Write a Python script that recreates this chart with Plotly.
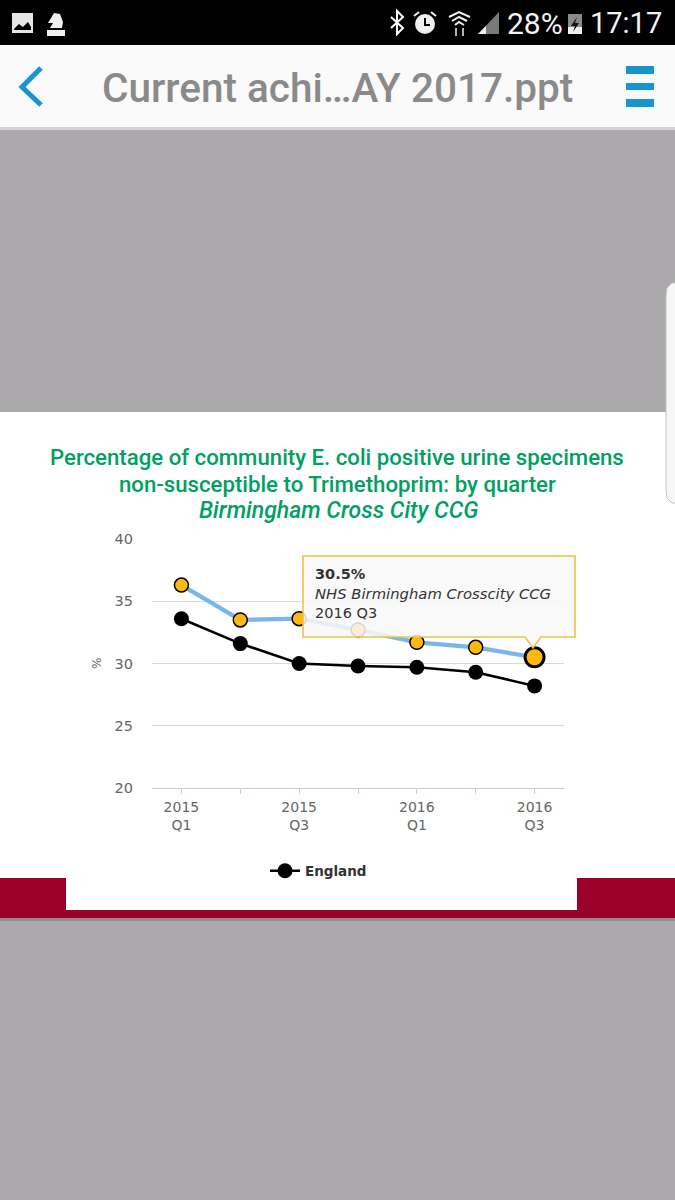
import plotly.graph_objects as go

W, H = 675, 1200

# ---- data ----
quarters = ["2015 Q1", "2015 Q2", "2015 Q3", "2015 Q4", "2016 Q1", "2016 Q2", "2016 Q3"]
tick_labels = ["2015<br>Q1", "", "2015<br>Q3", "", "2016<br>Q1", "", "2016<br>Q3"]
birmingham = [36.3, 33.5, 33.6, 32.7, 31.7, 31.3, 30.5]
england = [33.6, 31.6, 30.0, 29.8, 29.7, 29.3, 28.2]
y_ticks = [20, 25, 30, 35, 40]


def X(px):
    return px / W


def Y(py):
    return 1 - py / H


def rect(x0, y0, x1, y1, color):
    return dict(type="rect", xref="paper", yref="paper", x0=X(x0), x1=X(x1), y0=Y(y0), y1=Y(y1),
                fillcolor=color, line_width=0, layer="below")


def path(points, close=False, fill=None, line=None, width=0, layer="below"):
    d = "M " + " L ".join(f"{X(a):.5f},{Y(b):.5f}" for a, b in points) + (" Z" if close else "")
    return dict(type="path", xref="paper", yref="paper", path=d, fillcolor=fill,
                line=dict(color=line, width=width), layer=layer)


def text(px, py, s, size, color, family="Roboto", anchor="center", weight=400, **kw):
    return dict(xref="paper", yref="paper", x=X(px), y=Y(py), text=s, showarrow=False,
                font=dict(size=size, color=color, family=family, weight=weight), xanchor=anchor, yanchor="middle",
                borderpad=0, **kw)


GREY = "#ABA9AB"
CRIMSON = "#9B0029"
BLUE = "#1596CE"
GREEN = "#00A063"
TICK = "#666666"
ICON = "#EFEFEF"

shapes = [
    rect(0, 0, W, H, GREY),
    rect(0, 0, W, 45, "#000000"),
    rect(0, 45, W, 127, "#FAFAFA"),
    rect(0, 127, W, 130, "#D4D3D4"),
    # slide
    rect(0, 412, W, 878, "#FFFFFF"),
    rect(0, 878, 66, 918, CRIMSON),
    rect(577, 878, W, 918, CRIMSON),
    rect(66, 878, 577, 910, "#FFFFFF"),
    rect(66, 910, 577, 918, CRIMSON),
    rect(0, 918, W, 921, "#8F8D8F"),
    # side handle
    path([(680, 283), (672, 283), (667, 288), (666, 296), (666, 490), (667, 498), (672, 503), (680, 503)], True,
         fill="#F6F6F6", line="#C4C3C4", width=1),
    # nav icons
    path([(41, 68), (22, 87), (41, 105)], line=BLUE, width=5),
    rect(626, 66, 654, 74, BLUE),
    rect(626, 83, 654, 90, BLUE),
    rect(626, 99, 654, 107, BLUE),
    # status bar: picture icon
    rect(12, 13, 33, 33, "#E6E6E6"),
    path([(14, 29), (19, 24), (23, 27), (28, 22), (31, 27), (31, 30), (14, 30)], True, fill="#000000"),
    # status bar: chess knight
    path([(50, 28), (53, 23), (48, 23), (54, 13), (60, 14), (63, 22), (62, 28)], True, fill="#F0F0F0"),
    rect(47, 30, 65, 36, "#F0F0F0"),
    # bluetooth
    path([(391, 17), (403, 28), (397, 34), (397, 11), (403, 17), (391, 28)], line="#FFFFFF", width=2),
    # alarm clock
    dict(type="circle", xref="paper", yref="paper", x0=X(415), x1=X(435), y0=Y(14), y1=Y(34),
         fillcolor=ICON, line_width=0, layer="below"),
    path([(425, 18), (425, 25), (430, 25)], line="#000000", width=2),
    path([(414, 16), (419, 12)], line=ICON, width=2),
    path([(431, 12), (436, 16)], line=ICON, width=2),
    # wifi
    path([(449, 17), (459, 12), (470, 17)], line=ICON, width=2),
    path([(452, 21), (459, 17), (467, 21)], line=ICON, width=2),
    path([(455, 25), (459, 22), (464, 25)], line=ICON, width=2),
    path([(456, 28), (456, 36)], line=ICON, width=1.5),
    path([(463, 28), (463, 36)], line=ICON, width=1.5),
    # signal
    path([(478, 34), (499, 12), (499, 34)], True, fill="#7A7A7A"),
    path([(478, 34), (486, 26), (486, 34)], True, fill=ICON),
    # battery
    rect(568, 14, 582, 34, "#8A8A8A"),
    rect(568, 27, 582, 34, ICON),
    path([(577, 17), (571, 26), (575, 26), (573, 32), (579, 23), (575, 23)], True, fill="#111111"),
    # tooltip
    path([(303, 556), (575, 556), (575, 637), (541, 637), (533, 648), (525, 637), (303, 637)], True,
         fill="rgba(248,248,248,0.86)", line="#EBC24B", width=1.6, layer="above"),
]

annotations = [
    text(337.5, 88, "Current achi…AY 2017.ppt", 40.5, "#8A8A8A", weight=500),
    text(534.5, 23, "28%", 30, "#F4F4F4"),
    text(626, 23, "17:17", 29, "#F4F4F4"),
    text(337, 457, "Percentage of community E. coli positive urine specimens", 22.2, GREEN, weight=500),
    text(337, 484, "non-susceptible to Trimethoprim: by quarter", 22.2, GREEN, weight=500),
    text(338.5, 511, "<i>Birmingham Cross City CCG</i>", 23, GREEN, weight=500),
    text(97, 664, "%", 12, TICK, family="DejaVu Sans", textangle=-90),
    text(313.5, 574, "<b>30.5%</b>", 14.5, "#333333", family="DejaVu Sans", anchor="left"),
    text(313.5, 593, "<i>NHS Birmingham Crosscity CCG</i>", 14.8, "#333333", family="DejaVu Sans", anchor="left"),
    text(313.5, 613, "2016 Q3", 14.5, "#333333", family="DejaVu Sans", anchor="left"),
]

fig = go.Figure()
fig.add_trace(go.Scatter(
    x=quarters, y=england, name="England", mode="lines+markers",
    line=dict(color="#000000", width=2.6),
    marker=dict(color="#000000", size=15, line=dict(color="#000000", width=0)),
))
fig.add_trace(go.Scatter(
    x=quarters, y=birmingham, name="NHS Birmingham Crosscity CCG", mode="lines+markers", showlegend=False,
    line=dict(color="#7CB5EC", width=4.2),
    marker=dict(color="#FDB90F", size=14, opacity=1, line=dict(color="#000000", width=1.5)),
))
fig.add_trace(go.Scatter(
    x=quarters[-1:], y=birmingham[-1:], mode="markers", showlegend=False,
    marker=dict(color="#FDB90F", size=19, opacity=1, line=dict(color="#000000", width=3)),
))

fig.update_layout(
    width=W, height=H, autosize=False, margin=dict(l=0, r=0, t=0, b=0, pad=0, autoexpand=False),
    paper_bgcolor=GREY, plot_bgcolor="rgba(0,0,0,0)",
    shapes=shapes, annotations=annotations, hovermode=False,
    xaxis=dict(domain=[X(152), X(564)], type="category", categoryorder="array", categoryarray=quarters,
               range=[-0.5, 6.5], tickmode="array", tickvals=quarters, ticktext=tick_labels,
               tickangle=0, ticks="outside", ticklen=5, tickcolor="#C0D0E0", tickwidth=1,
               showgrid=False, showline=True, linecolor="#C0D0E0", linewidth=1, ticklabelstandoff=1,
               tickfont=dict(size=14, color=TICK, family="DejaVu Sans"), fixedrange=True),
    yaxis=dict(domain=[Y(788), Y(539)], range=[20, 40], tickmode="array", tickvals=y_ticks,
               showgrid=True, gridcolor="#D8D8D8", gridwidth=1, zeroline=False, showline=False,
               ticks="", ticklabelstandoff=18,
               tickfont=dict(size=14.5, color=TICK, family="DejaVu Sans"), fixedrange=True),
    showlegend=True,
    legend=dict(x=X(265), y=Y(871), xanchor="left", yanchor="middle", bgcolor="rgba(0,0,0,0)",
                font=dict(size=13.5, color="#333333", family="DejaVu Sans", weight="bold"),
                itemwidth=30, itemclick=False, itemdoubleclick=False),
)

fig.write_html("out.html", config=dict(displayModeBar=False, staticPlot=True),
               post_script="document.body.style.margin='0';")
